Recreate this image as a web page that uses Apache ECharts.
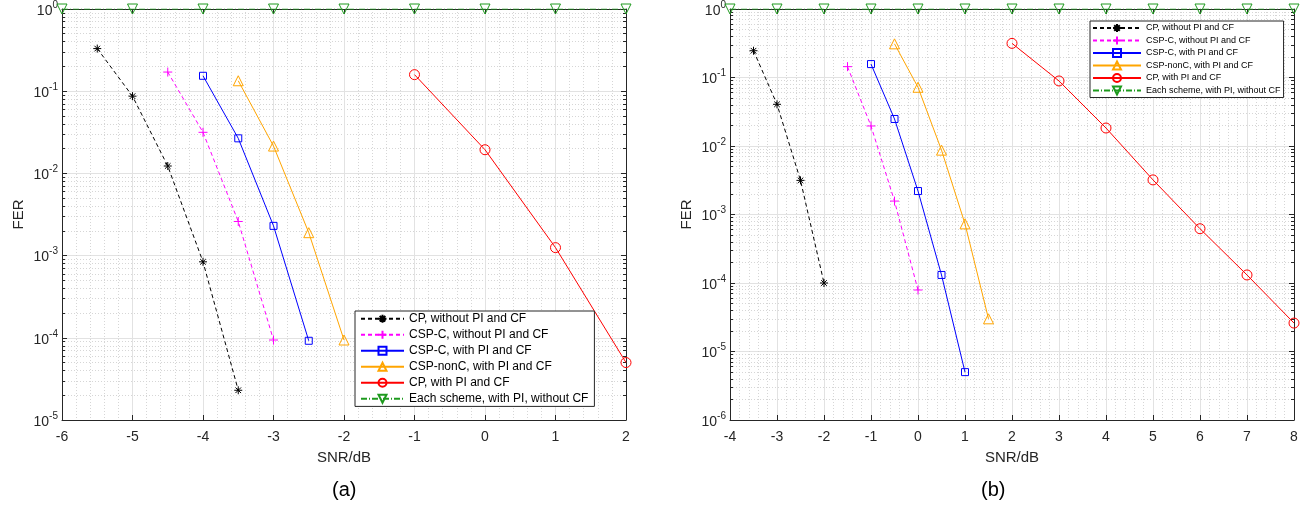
<!DOCTYPE html>
<html>
<head>
<meta charset="utf-8">
<script src="https://cdn.jsdelivr.net/npm/echarts/dist/echarts.min.js"></script>
<style>
  body { margin: 0; background: #fff; }
  #main { width: 1315px; height: 508px; }
</style>
</head>
<body>
<div id="main"></div>
<script>
// legend names
var names = [
  'CP, without PI and CF',
  'CSP-C, without PI and CF',
  'CSP-C, with PI and CF',
  'CSP-nonC, with PI and CF',
  'CP, with PI and CF',
  'Each scheme, with PI, without CF'
];

// (a)
var snrA_cpNo = [-5.5, -5, -4.5, -4, -3.5];
var ferA_cpNo = [0.33, 0.087, 0.0123, 8.4e-4, 2.3e-5];
var snrA_cspNo = [-4.5, -4, -3.5, -3];
var ferA_cspNo = [0.171, 0.0316, 2.6e-3, 9.4e-5];
var snrA_cspWith = [-4, -3.5, -3, -2.5];
var ferA_cspWith = [0.154, 0.0267, 2.3e-3, 9.2e-5];
var snrA_nonC = [-3.5, -3, -2.5, -2];
var ferA_nonC = [0.134, 0.0215, 1.9e-3, 9.4e-5];
var snrA_cpWith = [-1, 0, 1, 2];
var ferA_cpWith = [0.159, 0.0194, 1.25e-3, 5.0e-5];
var snrA_noCF = [-6, -5, -4, -3, -2, -1, 0, 1, 2];
var ferA_noCF = [1, 1, 1, 1, 1, 1, 1, 1, 1];

// (b)
var snrB_cpNo = [-3.5, -3, -2.5, -2];
var ferB_cpNo = [0.246, 0.0406, 3.15e-3, 1.0e-4];
var snrB_cspNo = [-1.5, -1, -0.5, 0];
var ferB_cspNo = [0.144, 0.0196, 1.57e-3, 7.9e-5];
var snrB_cspWith = [-1, -0.5, 0, 0.5, 1];
var ferB_cspWith = [0.157, 0.0248, 2.2e-3, 1.31e-4, 5.0e-6];
var snrB_nonC = [-0.5, 0, 0.5, 1, 1.5];
var ferB_nonC = [0.31, 0.072, 8.7e-3, 7.3e-4, 3.0e-5];
var snrB_cpWith = [2, 3, 4, 5, 6, 7, 8];
var ferB_cpWith = [0.315, 0.089, 0.0183, 3.2e-3, 6.2e-4, 1.31e-4, 2.6e-5];
var snrB_noCF = [-4, -3, -2, -1, 0, 1, 2, 3, 4, 5, 6, 7, 8];
var ferB_noCF = [1, 1, 1, 1, 1, 1, 1, 1, 1, 1, 1, 1, 1];

var FONT = 'Liberation Sans, Arial, Helvetica, sans-serif';
var AX = '#262626';

// marker shapes
var STAR = 'path://M0,-10L0,10M-10,0L10,0M-7,-7L7,7M-7,7L7,-7';
var PLUS = 'path://M0,-10L0,10M-10,0L10,0';
var TRI_DOWN = 'path://M-10,-9L10,-9L0,9Z';

var styles = [
  { color: '#000000', dash: [4, 3], symbol: STAR, size: 8 },
  { color: '#ff00ff', dash: [4, 3], symbol: PLUS, size: 9 },
  { color: '#0000ff', dash: 'solid', symbol: 'rect', size: 7 },
  { color: '#ffa500', dash: 'solid', symbol: 'triangle', size: 10 },
  { color: '#ff0000', dash: 'solid', symbol: 'circle', size: 10 },
  { color: '#1e9a1e', dash: [6, 2, 1, 2], symbol: TRI_DOWN, size: 10 }
];

function mk(idx, xs, ys, ax) {
  var s = styles[idx];
  return {
    name: names[idx],
    type: 'line',
    xAxisIndex: ax,
    yAxisIndex: ax,
    data: xs.map(function (x, i) { return [x, ys[i]]; }),
    symbol: s.symbol,
    symbolSize: s.size,
    showAllSymbol: true,
    lineStyle: { color: s.color, width: 1, type: s.dash },
    itemStyle: { color: 'transparent', borderColor: s.color, borderWidth: 1 },
    emphasis: { disabled: true },
    z: idx === 5 ? 5 : 3
  };
}

function xAxes(grid, min, max, top) {
  return {
    gridIndex: grid, type: 'value', min: min, max: max, interval: 1,
    position: top ? 'top' : 'bottom',
    axisLine: { onZero: false, lineStyle: { color: AX, width: 1 } },
    axisTick: { inside: true, length: 5, lineStyle: { color: AX } },
    minorTick: { show: false, splitNumber: 5 },
    axisLabel: { show: !top, color: AX, fontSize: 14, fontFamily: FONT, margin: 10 },
    splitLine: { show: !top, lineStyle: { color: '#e2e2e2', width: 1 } },
    minorSplitLine: { show: !top, lineStyle: { color: '#d6d6d6', width: 1, type: [1, 2] } },
    name: top ? '' : 'SNR/dB', nameLocation: 'middle', nameGap: 30,
    nameTextStyle: { color: AX, fontSize: 15, fontFamily: FONT }
  };
}

function yAxes(grid, min, right) {
  return {
    gridIndex: grid, type: 'log', logBase: 10, min: min, max: 1, interval: 1,
    position: right ? 'right' : 'left',
    axisLine: { onZero: false, lineStyle: { color: AX, width: 1 } },
    axisTick: { inside: true, length: 5, lineStyle: { color: AX } },
    minorTick: { show: true, splitNumber: 9, length: 3, lineStyle: { color: AX } },
    axisLabel: {
      show: !right, margin: 4, fontFamily: FONT,
      formatter: function (v) {
        return '{b|10}{s|' + Math.round(Math.log10(v)) + '}';
      },
      rich: {
        b: { fontSize: 14, color: AX, fontFamily: FONT, lineHeight: 16, padding: [4, 0, 0, 0] },
        s: { fontSize: 10, color: AX, fontFamily: FONT, lineHeight: 12, padding: [0, 0, 8, 0] }
      }
    },
    splitLine: { show: !right, lineStyle: { color: '#e2e2e2', width: 1 } },
    minorSplitLine: { show: !right, lineStyle: { color: '#d6d6d6', width: 1, type: [1, 2] } },
    name: right ? '' : 'FER', nameLocation: 'middle', nameGap: 36,
    nameTextStyle: { color: AX, fontSize: 15, fontFamily: FONT }
  };
}

var chart = echarts.init(document.getElementById('main'));
chart.setOption({
  animation: false,
  backgroundColor: '#fff',
  textStyle: { fontFamily: FONT },
  grid: [
    { left: 62, top: 9, width: 564, height: 411 },
    { left: 730, top: 9, width: 564, height: 411 }
  ],
  xAxis: [
    xAxes(0, -6, 2, false),
    xAxes(0, -6, 2, true),
    xAxes(1, -4, 8, false),
    xAxes(1, -4, 8, true)
  ],
  yAxis: [
    yAxes(0, 1e-5, false),
    yAxes(0, 1e-5, true),
    yAxes(1, 1e-6, false),
    yAxes(1, 1e-6, true)
  ],
  legend: [
    {
      data: names, orient: 'vertical', left: 355, top: 311,
      itemWidth: 43, itemHeight: 10, itemGap: 2.6,
      padding: [1, 6, 1, 5],
      backgroundColor: '#fff', borderColor: AX, borderWidth: 1,
      textStyle: { fontSize: 12, color: '#000', fontFamily: FONT, lineHeight: 13.4 },
      selectedMode: false
    },
    {
      data: names, orient: 'vertical', left: 1090, top: 21,
      itemWidth: 48, itemHeight: 10, itemGap: 2.5,
      padding: [2, 3, 2, 2],
      backgroundColor: '#fff', borderColor: AX, borderWidth: 1,
      textStyle: { fontSize: 9, color: '#000', fontFamily: FONT },
      selectedMode: false
    }
  ],
  graphic: [
    { type: 'text', left: 332, top: 480, style: { text: '(a)', font: '20px Liberation Sans', fill: '#000' } },
    { type: 'text', left: 981, top: 480, style: { text: '(b)', font: '20px Liberation Sans', fill: '#000' } }
  ],
  series: [
    mk(0, snrA_cpNo, ferA_cpNo, 0),
    mk(1, snrA_cspNo, ferA_cspNo, 0),
    mk(2, snrA_cspWith, ferA_cspWith, 0),
    mk(3, snrA_nonC, ferA_nonC, 0),
    mk(4, snrA_cpWith, ferA_cpWith, 0),
    mk(5, snrA_noCF, ferA_noCF, 0),
    mk(0, snrB_cpNo, ferB_cpNo, 2),
    mk(1, snrB_cspNo, ferB_cspNo, 2),
    mk(2, snrB_cspWith, ferB_cspWith, 2),
    mk(3, snrB_nonC, ferB_nonC, 2),
    mk(4, snrB_cpWith, ferB_cpWith, 2),
    mk(5, snrB_noCF, ferB_noCF, 2)
  ]
});
</script>
</body>
</html>
